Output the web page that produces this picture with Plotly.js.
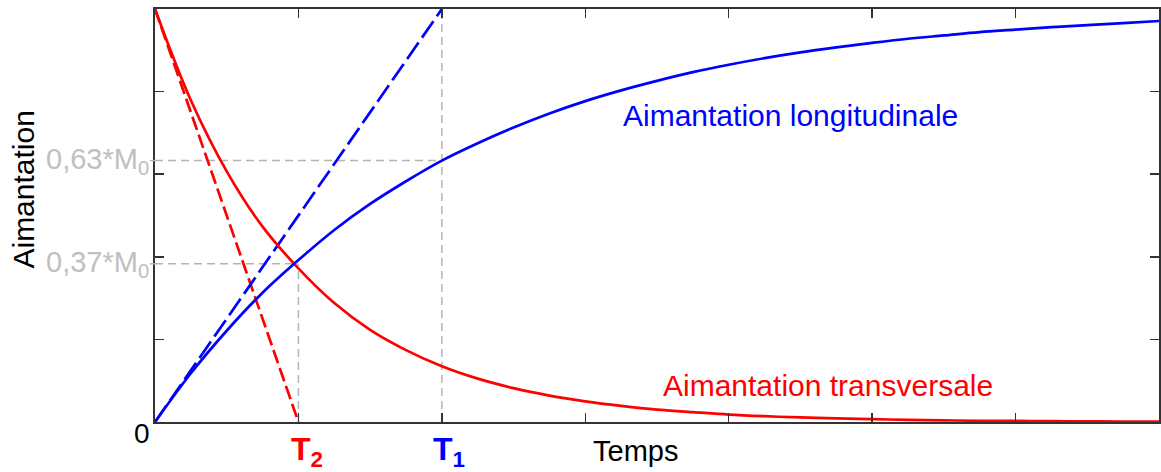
<!DOCTYPE html>
<html>
<head>
<meta charset="utf-8">
<script src="https://cdn.plot.ly/plotly-3.0.1.min.js"></script>
<style>
  html, body { margin: 0; padding: 0; background: #ffffff; }
  #chart { width: 1161px; height: 472px; }
</style>
</head>
<body>
<div id="chart"></div>
<script>
// Time axis (in units where T2 = 1, T1 = 2)
const timeValues = [0, 0.25, 0.5, 0.75, 1, 1.25, 1.5, 1.75, 2, 2.25, 2.5, 2.75, 3, 3.25, 3.5, 3.75, 4, 4.25, 4.5, 4.75, 5, 5.25, 5.5, 5.75, 6, 6.25, 6.5, 6.75, 7];
// (fraction of M0)
const longitudinal = [0, 0.118, 0.221, 0.313, 0.392, 0.465, 0.528, 0.583, 0.633, 0.675, 0.713, 0.747, 0.777, 0.803, 0.826, 0.847, 0.865, 0.881, 0.895, 0.907, 0.918, 0.928, 0.936, 0.944, 0.950, 0.956, 0.961, 0.966, 0.971];
const transversal  = [1, 0.779, 0.607, 0.473, 0.372, 0.288, 0.223, 0.174, 0.135, 0.105, 0.082, 0.064, 0.050, 0.039, 0.030, 0.024, 0.018, 0.014, 0.011, 0.009, 0.007, 0.005, 0.004, 0.003, 0.0025, 0.002, 0.0015, 0.001, 0.001];

// Tangent lines at origin
const tangentLongX = [0, 2];
const tangentLongY = [0, 1];
const tangentTransX = [0, 1];
const tangentTransY = [1, 0];

// Characteristic times and levels
const T2 = 1;
const T1 = 2;
const level63 = 0.633;
const level37 = 0.383;

const xTicks = [1, 2, 3, 4, 5, 6];
const yTicks = [0.2, 0.4, 0.6, 0.8];

const labelLong = 'Aimantation longitudinale';
const labelTrans = 'Aimantation transversale';
const xTitle = 'Temps';
const yTitle = 'Aimantation';
const label63 = '0,63*M<sub>0</sub>';
const label37 = '0,37*M<sub>0</sub>';
const labelT1 = '<b>T<sub>1</sub></b>';
const labelT2 = '<b>T<sub>2</sub></b>';

const BLUE = '#0000ff';
const RED = '#ff0000';
const GRID = '#b4b4b4';
const AX = '#333333';
const FONT = 'Liberation Sans, Arial, sans-serif';

const traces = [
  { x: tangentTransX, y: tangentTransY, mode: 'lines', line: { color: RED, width: 2.7, dash: '14px,5px' }, hoverinfo: 'skip' },
  { x: tangentLongX, y: tangentLongY, mode: 'lines', line: { color: BLUE, width: 2.7, dash: '20px,6px' }, hoverinfo: 'skip' },
  { x: timeValues, y: transversal, mode: 'lines', line: { color: RED, width: 2.7, shape: 'spline' }, hoverinfo: 'skip' },
  { x: timeValues, y: longitudinal, mode: 'lines', line: { color: BLUE, width: 2.7, shape: 'spline' }, hoverinfo: 'skip' }
];

const dashLine = { color: GRID, width: 1.5, dash: '8px,5px' };

const layout = {
  width: 1161,
  height: 472,
  margin: { l: 155, r: 2, t: 9, b: 50 },
  paper_bgcolor: '#ffffff',
  plot_bgcolor: '#ffffff',
  showlegend: false,
  font: { family: FONT, color: '#000000' },
  xaxis: {
    range: [0, 7],
    showgrid: false, zeroline: false,
    showline: true, linecolor: AX, linewidth: 2, mirror: 'ticks',
    ticks: 'inside', ticklen: 9, tickwidth: 1.5, tickcolor: AX,
    tickvals: xTicks, showticklabels: false
  },
  yaxis: {
    range: [0, 1],
    showgrid: false, zeroline: false,
    showline: true, linecolor: AX, linewidth: 2, mirror: 'ticks',
    ticks: 'inside', ticklen: 9, tickwidth: 1.5, tickcolor: AX,
    tickvals: yTicks, showticklabels: false
  },
  shapes: [
    { type: 'line', xref: 'x', yref: 'y', x0: 0, x1: T1, y0: level63, y1: level63, line: dashLine, layer: 'below' },
    { type: 'line', xref: 'x', yref: 'y', x0: 0, x1: T2, y0: level37, y1: level37, line: dashLine, layer: 'below' },
    { type: 'line', xref: 'paper', yref: 'y', x0: -0.005, x1: 0, y0: level63, y1: level63, line: { color: GRID, width: 1.5 } },
    { type: 'line', xref: 'paper', yref: 'y', x0: -0.005, x1: 0, y0: level37, y1: level37, line: { color: GRID, width: 1.5 } },
    { type: 'line', xref: 'x', yref: 'y', x0: T1, x1: T1, y0: 0, y1: 1, line: dashLine, layer: 'below' },
    { type: 'line', xref: 'x', yref: 'y', x0: T2, x1: T2, y0: 0, y1: level37, line: dashLine, layer: 'below' }
  ],
  annotations: [
    { text: labelLong, xref: 'x', yref: 'y', x: 3.25, y: 0.741, xanchor: 'left', yanchor: 'middle', showarrow: false, font: { family: FONT, size: 30, color: BLUE } },
    { text: labelTrans, xref: 'x', yref: 'y', x: 3.527, y: 0.088, xanchor: 'left', yanchor: 'middle', showarrow: false, font: { family: FONT, size: 30, color: RED } },
    { text: xTitle, xref: 'x', yref: 'paper', x: 3.04, y: -0.071, xanchor: 'left', yanchor: 'middle', showarrow: false, font: { family: FONT, size: 29, color: '#000000' } },
    { text: labelT2, xref: 'x', yref: 'paper', x: 0.935, y: -0.072, xanchor: 'left', yanchor: 'middle', showarrow: false, font: { family: FONT, size: 32, color: RED } },
    { text: labelT1, xref: 'x', yref: 'paper', x: 1.925, y: -0.072, xanchor: 'left', yanchor: 'middle', showarrow: false, font: { family: FONT, size: 32, color: BLUE } },
    { text: '0', xref: 'paper', yref: 'paper', x: -0.0125, y: -0.027, xanchor: 'center', yanchor: 'middle', showarrow: false, font: { family: FONT, size: 28, color: '#000000' } },
    { text: label63, xref: 'paper', yref: 'y', x: -0.004, y: level63, xanchor: 'right', yanchor: 'middle', showarrow: false, font: { family: FONT, size: 29, color: '#c0c0c0' } },
    { text: label37, xref: 'paper', yref: 'y', x: -0.004, y: level37, xanchor: 'right', yanchor: 'middle', showarrow: false, font: { family: FONT, size: 29, color: '#c0c0c0' } },
    { text: yTitle, xref: 'paper', yref: 'paper', x: -0.131, y: 0.564, xanchor: 'center', yanchor: 'middle', textangle: -90, showarrow: false, font: { family: FONT, size: 30, color: '#000000' } }
  ]
};

Plotly.newPlot('chart', traces, layout, { displayModeBar: false, staticPlot: true });
</script>
</body>
</html>
